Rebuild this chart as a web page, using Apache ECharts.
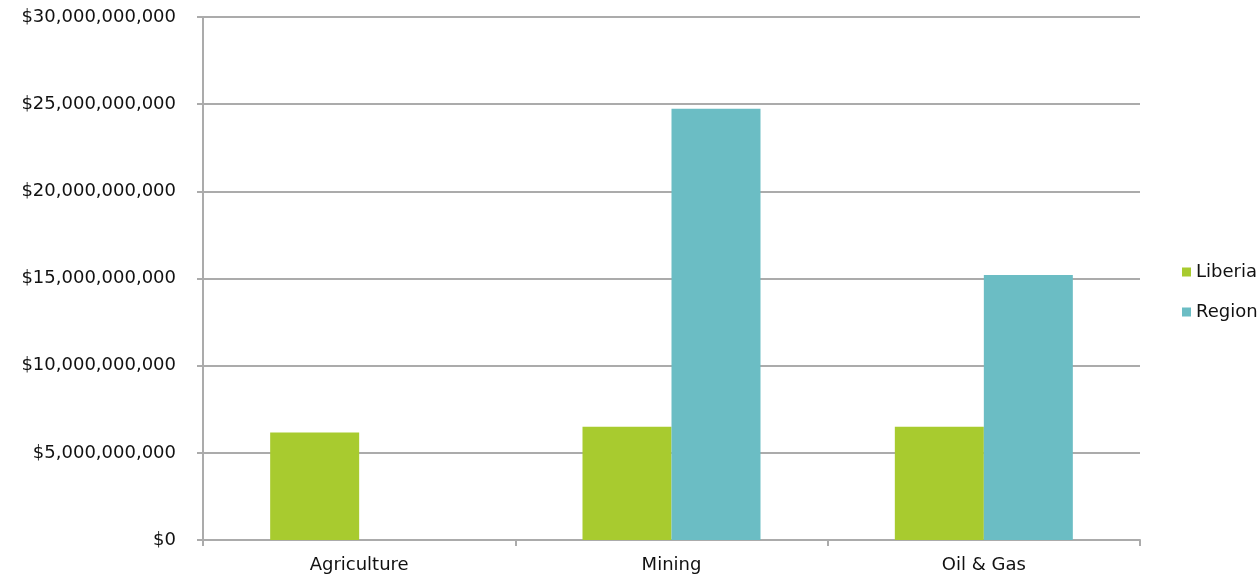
<!DOCTYPE html>
<html>
<head>
<meta charset="utf-8">
<script src="https://cdn.jsdelivr.net/npm/echarts@6/dist/echarts.min.js"></script>
<style>
  html, body { margin: 0; padding: 0; background: #fff; }
  #main { width: 1259px; height: 574px; }
</style>
</head>
<body>
<div id="main"></div>
<script>
var categories = ['Agriculture', 'Mining', 'Oil & Gas'];
var liberia = [6170000000, 6500000000, 6500000000];
var region = [null, 24730000000, 15200000000];
var yTicks = [0, 5000000000, 10000000000, 15000000000, 20000000000, 25000000000, 30000000000];

function money(v) {
  return '$' + String(v).replace(/\B(?=(\d{3})+(?!\d))/g, ',');
}

var chart = echarts.init(document.getElementById('main'));

var gray = '#ababab';
var font = 'DejaVu Sans';

chart.setOption({
  animation: false,
  grid: {
    left: 203,
    right: 119,
    top: 17,
    bottom: 32
  },
  legend: {
    orient: 'vertical',
    left: 1182,
    top: 263,
    padding: 0,
    itemWidth: 9,
    itemHeight: 9,
    itemGap: 22,
    icon: 'rect',
    textStyle: { fontFamily: font, fontSize: 18, color: '#111' },
    data: ['Liberia', 'Region']
  },
  xAxis: {
    type: 'category',
    data: categories,
    axisLine: { lineStyle: { color: gray, width: 2 } },
    axisTick: { show: true, length: 6, interval: 0, lineStyle: { color: gray, width: 2 } },
    axisLabel: { fontFamily: font, fontSize: 18, color: '#111', margin: 16 }
  },
  yAxis: {
    type: 'value',
    min: yTicks[0],
    max: yTicks[yTicks.length - 1],
    interval: 5000000000,
    axisLine: { show: true, lineStyle: { color: gray, width: 2 } },
    axisTick: { show: true, length: 6, lineStyle: { color: gray, width: 2 } },
    splitLine: { lineStyle: { color: gray, width: 2 } },
    axisLabel: {
      fontFamily: font,
      fontSize: 18,
      color: '#111',
      margin: 27,
      formatter: function (v) { return money(v); }
    }
  },
  series: [
    {
      name: 'Liberia',
      type: 'bar',
      data: liberia,
      barWidth: 89,
      barGap: '0%',
      itemStyle: { color: '#a8cb2f' }
    },
    {
      name: 'Region',
      type: 'bar',
      data: region,
      barWidth: 89,
      barGap: '0%',
      itemStyle: { color: '#6bbdc4' }
    }
  ]
});
</script>
</body>
</html>
